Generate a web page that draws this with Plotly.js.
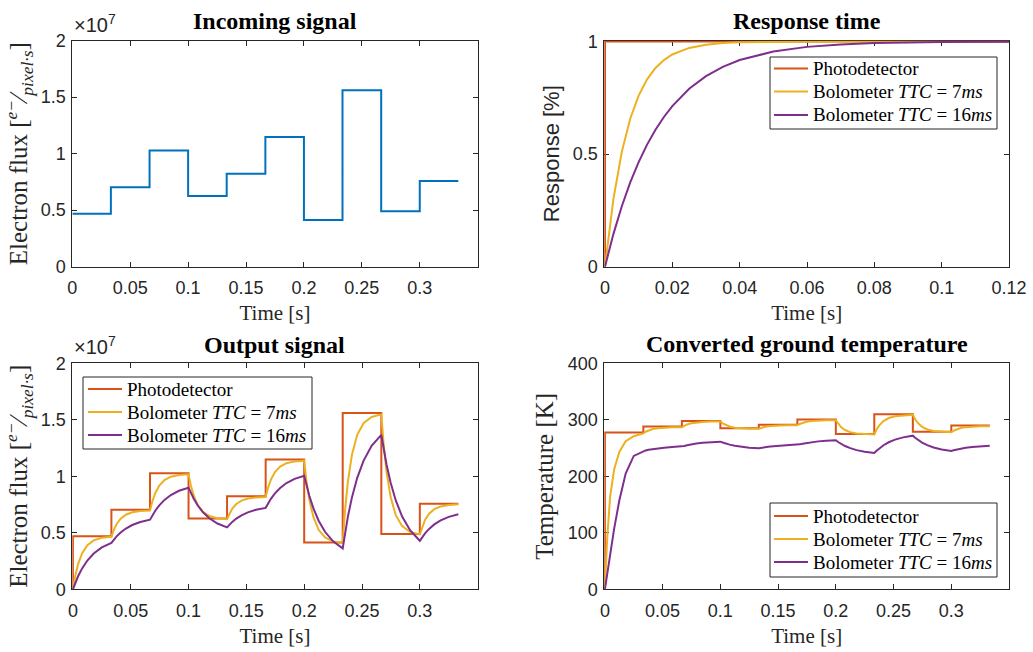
<!DOCTYPE html>
<html><head><meta charset="utf-8">
<script src="https://cdn.plot.ly/plotly-3.0.1.min.js"></script>
<style>html,body{margin:0;padding:0;background:#fff}#chart{width:1033px;height:652px}</style>
</head><body><div id="chart"></div>
<script>
// ---------- data ----------
// incoming signal (x 1e7 e-/(pixel*s)) on 1/30 s steps
const stepTimes = [0, 0.0333, 0.0667, 0.1, 0.1333, 0.1667, 0.2, 0.2333, 0.2667, 0.3, 0.3333];
const stepFlux = [0.469, 0.703, 1.027, 0.626, 0.823, 1.148, 0.413, 1.561, 0.490, 0.758];

// response time panel
const respTimes = [0, 0.0025, 0.005, 0.0075, 0.01, 0.0125, 0.015, 0.0175, 0.02, 0.025, 0.03, 0.035, 0.04, 0.05, 0.06, 0.07, 0.08, 0.1, 0.12];
const respPhotoT = [0, 0, 0.12];
const respPhoto = [0, 1, 1];
const resp7ms = [0, 0.300, 0.5105, 0.6575, 0.7603, 0.8323, 0.8827, 0.9179, 0.9426, 0.9719, 0.9862, 0.9933, 0.9967, 0.9992, 0.9998, 1, 1, 1, 1];
const resp16ms = [0, 0.1447, 0.2684, 0.3742, 0.4647, 0.5422, 0.6084, 0.6650, 0.7135, 0.7904, 0.8466, 0.8878, 0.9179, 0.9561, 0.9765, 0.9874, 0.9933, 0.9981, 0.9994];

// bolometer output time grid
const boloTimes = [
  0, 0.002, 0.0045, 0.008, 0.0125, 0.018, 0.025,
  0.0333, 0.0353, 0.0378, 0.0413, 0.0458, 0.0513, 0.0583,
  0.0667, 0.0687, 0.0712, 0.0747, 0.0792, 0.0847, 0.0917,
  0.1, 0.102, 0.1045, 0.108, 0.1125, 0.118, 0.125,
  0.1333, 0.1353, 0.1378, 0.1413, 0.1458, 0.1513, 0.1583,
  0.1667, 0.1687, 0.1712, 0.1747, 0.1792, 0.1847, 0.1917,
  0.2, 0.202, 0.2045, 0.208, 0.2125, 0.218, 0.225,
  0.2333, 0.2353, 0.2378, 0.2413, 0.2458, 0.2513, 0.2583,
  0.2667, 0.2687, 0.2712, 0.2747, 0.2792, 0.2847, 0.2917,
  0.3, 0.302, 0.3045, 0.308, 0.3125, 0.318, 0.325,
  0.3333];
const outFlux7ms = [
  0, 0.1165, 0.2224, 0.3194, 0.3903, 0.4332, 0.4558,
  0.4650, 0.5231, 0.5760, 0.6244, 0.6598, 0.6811, 0.6924,
  0.6970, 0.7775, 0.8506, 0.9177, 0.9667, 0.9962, 1.0119,
  1.0182, 0.9186, 0.8280, 0.7451, 0.6844, 0.6478, 0.6285,
  0.6206, 0.6696, 0.7140, 0.7548, 0.7846, 0.8025, 0.8121,
  0.8160, 0.8968, 0.9701, 1.0374, 1.0865, 1.1162, 1.1319,
  1.1382, 0.9556, 0.7897, 0.6376, 0.5265, 0.4594, 0.4239,
  0.4095, 0.6948, 0.9539, 1.1914, 1.3650, 1.4698, 1.5252,
  1.5477, 1.2816, 1.0398, 0.8182, 0.6563, 0.5585, 0.5068,
  0.4858, 0.5524, 0.6129, 0.6683, 0.7089, 0.7333, 0.7463,
  0.7515];
const outFlux16ms = [
  0, 0.0551, 0.1150, 0.1846, 0.2543, 0.3167, 0.3707,
  0.4106, 0.4381, 0.4680, 0.5027, 0.5375, 0.5686, 0.5956,
  0.6155, 0.6536, 0.6949, 0.7430, 0.7912, 0.8343, 0.8716,
  0.8991, 0.8520, 0.8008, 0.7413, 0.6817, 0.6283, 0.5821,
  0.5481, 0.5712, 0.5964, 0.6256, 0.6549, 0.6811, 0.7038,
  0.7205, 0.7587, 0.8002, 0.8484, 0.8967, 0.9400, 0.9774,
  1.0051, 0.9187, 0.8249, 0.7159, 0.6066, 0.5088, 0.4242,
  0.3616, 0.4965, 0.6431, 0.8133, 0.9840, 1.1368, 1.2690,
  1.3667, 1.2409, 1.1041, 0.9453, 0.7860, 0.6435, 0.5202,
  0.4290, 0.4605, 0.4947, 0.5345, 0.5743, 0.6100, 0.6408,
  0.6636];

// converted ground temperature [K]
const photoTemp = [277.3, 288.0, 298.0, 285.0, 291.4, 300.3, 275.0, 309.7, 279.0, 289.7];
const temp7ms = [
  0, 90, 163, 212, 243, 262, 271,
  276.0, 278.8, 281.3, 283.6, 285.2, 286.2, 286.8,
  287.0, 289.5, 291.8, 293.9, 295.4, 296.3, 296.8,
  297.0, 293.7, 290.8, 288.1, 286.1, 284.9, 284.3,
  284.0, 285.6, 287.1, 288.4, 289.4, 290.0, 290.3,
  290.4, 292.6, 294.7, 296.5, 297.9, 298.7, 299.1,
  299.3, 293.0, 287.2, 281.9, 278.1, 275.7, 274.5,
  274.0, 282.7, 290.6, 297.8, 303.1, 306.3, 308.0,
  308.7, 301.0, 294.0, 287.6, 282.9, 280.1, 278.6,
  278.0, 280.7, 283.1, 285.4, 287.0, 288.0, 288.5,
  288.7];
const temp16ms = [
  0, 28, 64, 107, 157, 205, 236,
  244.8, 245.8, 246.9, 248.2, 249.5, 250.7, 251.7,
  252.4, 253.6, 254.9, 256.4, 257.9, 259.3, 260.4,
  261.3, 259.7, 258.0, 256.0, 254.0, 252.2, 250.6,
  249.5, 250.3, 251.2, 252.2, 253.2, 254.1, 254.8,
  255.4, 256.5, 257.7, 259.1, 260.5, 261.8, 262.9,
  263.7, 260.7, 257.4, 253.6, 249.8, 246.3, 243.4,
  241.2, 245.3, 249.8, 255.0, 260.2, 264.9, 268.9,
  271.9, 268.3, 264.3, 259.7, 255.1, 251.0, 247.4,
  244.8, 246.1, 247.4, 249.0, 250.6, 252.0, 253.3,
  254.2];

// tick labels
const timeTicks = [0, 0.05, 0.1, 0.15, 0.2, 0.25, 0.3];
const timeTickText = ['0', '0.05', '0.1', '0.15', '0.2', '0.25', '0.3'];
const respTimeTicks = [0, 0.02, 0.04, 0.06, 0.08, 0.1, 0.12];
const respTimeTickText = ['0', '0.02', '0.04', '0.06', '0.08', '0.1', '0.12'];
const fluxTicks = [0, 0.5, 1, 1.5, 2];
const fluxTickText = ['0', '0.5', '1', '1.5', '2'];
const respTicks = [0, 0.5, 1];
const respTickText = ['0', '0.5', '1'];
const tempTicks = [0, 100, 200, 300, 400];
const tempTickText = ['0', '100', '200', '300', '400'];

const seriesNames = ['Photodetector', 'Bolometer <i>TTC</i> = 7<i>ms</i>', 'Bolometer <i>TTC</i> = 16<i>ms</i>'];

// ---------- style ----------
const C_BLUE = '#0072BD', C_ORANGE = '#D95319', C_YELLOW = '#EDB120', C_PURPLE = '#7E2F8E';
const seriesColors = [C_ORANGE, C_YELLOW, C_PURPLE];
const AXC = '#262626';
const SANS = 'Liberation Sans, Arial, Helvetica, sans-serif';
const SERIF = 'Liberation Serif, Times New Roman, serif';
const LW = 2;
const W = 1033, H = 652;

const photoX = [0].concat(stepTimes);
const photoFluxY = [0].concat(stepFlux, [stepFlux[stepFlux.length - 1]]);
const photoTempY = [0].concat(photoTemp, [photoTemp[photoTemp.length - 1]]);
const inFluxY = stepFlux.concat([stepFlux[stepFlux.length - 1]]);

function ln(color) { return {color: color, width: LW}; }
function tr(x, y, color, xa, ya, name, shape) {
  const l = ln(color); if (shape) l.shape = shape;
  return {x: x, y: y, type: 'scatter', mode: 'lines', line: l, xaxis: xa, yaxis: ya, name: name || '', showlegend: false, hoverinfo: 'skip'};
}

const traces = [
  tr(stepTimes, inFluxY, C_BLUE, 'x', 'y', 'Incoming signal', 'hv'),

  tr(respPhotoT, respPhoto, C_ORANGE, 'x2', 'y2', seriesNames[0]),
  tr(respTimes, resp7ms, C_YELLOW, 'x2', 'y2', seriesNames[1]),
  tr(respTimes, resp16ms, C_PURPLE, 'x2', 'y2', seriesNames[2]),

  tr(photoX, photoFluxY, C_ORANGE, 'x3', 'y3', seriesNames[0], 'hv'),
  tr(boloTimes, outFlux7ms, C_YELLOW, 'x3', 'y3', seriesNames[1]),
  tr(boloTimes, outFlux16ms, C_PURPLE, 'x3', 'y3', seriesNames[2]),

  tr(photoX, photoTempY, C_ORANGE, 'x4', 'y4', seriesNames[0], 'hv'),
  tr(boloTimes, temp7ms, C_YELLOW, 'x4', 'y4', seriesNames[1]),
  tr(boloTimes, temp16ms, C_PURPLE, 'x4', 'y4', seriesNames[2])
];

function axis(domain, range, vals, text, anchor, title, isX) {
  return {
    domain: domain, range: range, anchor: anchor,
    tickmode: 'array', tickvals: vals, ticktext: text,
    showline: true, mirror: 'ticks', linecolor: AXC, linewidth: 1,
    ticks: 'inside', ticklen: 5, tickwidth: 1, tickcolor: AXC,
    ticklabelstandoff: isX ? 5 : 2,
    tickfont: {family: SANS, size: 18, color: AXC},
    showgrid: false, zeroline: false, layer: 'below traces', fixedrange: true,
    title: title
  };
}

const LX = [0.0700, 0.4624], RX = [0.5850, 0.9768];
const TY = [0.5910, 0.9376], BY = [0.0962, 0.4428];

const xTitle = {text: 'Time [s]', font: {family: SERIF, size: 21, color: AXC}, standoff: 8};
const fluxTitle = {text: 'Electron flux [<i><sup>e−</sup>⁄<sub>pixel·s</sub></i>]', font: {family: SERIF, size: 25, color: AXC}, standoff: 5};

function ann(text, x, y, font, xa, ya) {
  return {text: text, x: x, y: y, xref: 'paper', yref: 'paper', showarrow: false, xanchor: xa || 'center', yanchor: ya || 'middle', font: font};
}
const titleFont = {family: SERIF, size: 24, color: '#000000', weight: 'bold'};
const expFont = {family: SANS, size: 20, color: AXC};
const legendFont = {family: SERIF, size: 19, color: '#000000'};

// boxed legends (pixel placement of the key boxes)
const legendBoxes = [
  {x0: 770, x1: 997, y0: 57, y1: 129, rows: [68.5, 91.5, 115], lx0: 774, lx1: 808, tx: 811},
  {x0: 83, x1: 312, y0: 377, y1: 449, rows: [389, 412, 435], lx0: 88, lx1: 122, tx: 125},
  {x0: 770, x1: 997, y0: 503, y1: 577, rows: [516, 539, 562], lx0: 774, lx1: 808, tx: 811}
];
const shapes = [];
const legendAnns = [];
legendBoxes.forEach(function (b) {
  shapes.push({type: 'rect', xref: 'paper', yref: 'paper', x0: b.x0 / W, x1: b.x1 / W, y0: 1 - b.y1 / H, y1: 1 - b.y0 / H,
    line: {color: AXC, width: 1}, fillcolor: '#ffffff', layer: 'above'});
  b.rows.forEach(function (ry, i) {
    shapes.push({type: 'line', xref: 'paper', yref: 'paper', x0: b.lx0 / W, x1: b.lx1 / W, y0: 1 - ry / H, y1: 1 - ry / H,
      line: {color: seriesColors[i], width: LW}, layer: 'above'});
    legendAnns.push(ann(seriesNames[i], b.tx / W, 1 - ry / H, legendFont, 'left', 'middle'));
  });
});

const layout = {
  width: W, height: H,
  margin: {l: 0, r: 0, t: 0, b: 0},
  paper_bgcolor: '#ffffff', plot_bgcolor: '#ffffff',
  showlegend: false,
  xaxis: axis(LX, [0, 0.35], timeTicks, timeTickText, 'y', xTitle, true),
  yaxis: axis(TY, [0, 2], fluxTicks, fluxTickText, 'x', fluxTitle, false),
  xaxis2: axis(RX, [-0.0002, 0.12], respTimeTicks, respTimeTickText, 'y2', xTitle, true),
  yaxis2: axis(TY, [0, 1.004], respTicks, respTickText, 'x2', {text: 'Response [%]', font: {family: SANS, size: 22, color: AXC}, standoff: 6}, false),
  xaxis3: axis(LX, [-0.0005, 0.35], timeTicks, timeTickText, 'y3', xTitle, true),
  yaxis3: axis(BY, [0, 2], fluxTicks, fluxTickText, 'x3', fluxTitle, false),
  xaxis4: axis(RX, [-0.0005, 0.35], timeTicks, timeTickText, 'y4', xTitle, true),
  yaxis4: axis(BY, [0, 400], tempTicks, tempTickText, 'x4', {text: 'Temperature [K]', font: {family: SERIF, size: 25, color: AXC}, standoff: 6}, false),
  shapes: shapes,
  annotations: [
    ann('Incoming signal', 0.2662, 0.9678, titleFont),
    ann('Response time', 0.7809, 0.9678, titleFont),
    ann('Output signal', 0.2662, 0.4709, titleFont),
    ann('Converted ground temperature', 0.7809, 0.4724, titleFont),
    ann('×10<sup>7</sup>', 0.0697, 0.9417, expFont, 'left', 'bottom'),
    ann('×10<sup>7</sup>', 0.0697, 0.4479, expFont, 'left', 'bottom')
  ].concat(legendAnns)
};

Plotly.newPlot('chart', traces, layout, {displayModeBar: false, staticPlot: true});
</script></body></html>
